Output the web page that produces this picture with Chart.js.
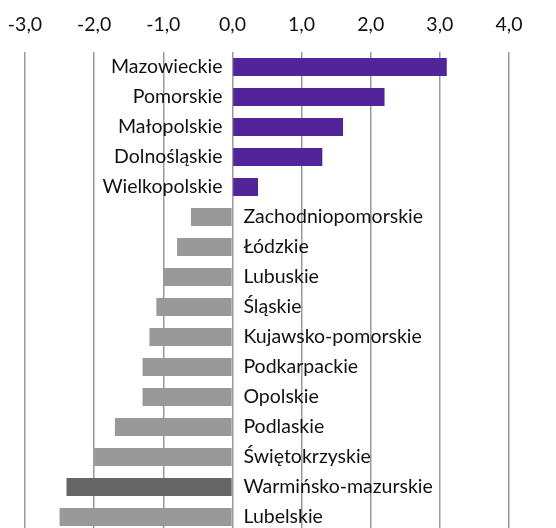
<!DOCTYPE html>
<html>
<head>
<meta charset="utf-8">
<script src="https://cdn.jsdelivr.net/npm/chart.js@4"></script>
<style>
    html, body { margin: 0; padding: 0; background: #fff; overflow: hidden; }
    #wrap { width: 556px; height: 532px; }
</style>
</head>
<body>
<div id="wrap"><canvas id="chart"></canvas></div>
<script>
// regiony i wartości
var regions = ['Mazowieckie', 'Pomorskie', 'Małopolskie', 'Dolnośląskie', 'Wielkopolskie',
    'Zachodniopomorskie', 'Łódzkie', 'Lubuskie', 'Śląskie', 'Kujawsko-pomorskie',
    'Podkarpackie', 'Opolskie', 'Podlaskie', 'Świętokrzyskie', 'Warmińsko-mazurskie', 'Lubelskie'];
var values = [3.1, 2.2, 1.6, 1.3, 0.37, -0.6, -0.8, -1.0, -1.1, -1.2, -1.3, -1.3, -1.7, -2.0, -2.4, -2.5];
var highlighted = ['Warmińsko-mazurskie'];
var xMin = -3, xMax = 4;

var fontFamily = 'Lato, "Noto Sans", sans-serif';

var barColors = values.map(function (v, i) {
    if (highlighted.indexOf(regions[i]) !== -1) return '#666666';
    return v >= 0 ? '#52249a' : '#999999';
});

// etykiety regionów przy osi zero
var regionLabels = {
    id: 'regionLabels',
    afterDatasetsDraw: function (chart) {
        var ctx = chart.ctx;
        var xs = chart.scales.x, ys = chart.scales.y;
        var x0 = xs.getPixelForValue(0);
        ctx.save();
        ctx.font = '19.5px ' + fontFamily;
        ctx.fillStyle = '#111';
        ctx.textBaseline = 'middle';
        regions.forEach(function (name, i) {
            var y = ys.getPixelForValue(i);
            if (values[i] >= 0) {
                ctx.textAlign = 'right';
                ctx.fillText(name, x0 - 10, y);
            } else {
                ctx.textAlign = 'left';
                ctx.fillText(name, x0 + 11, y);
            }
        });
        ctx.restore();
    }
};

new Chart(document.getElementById('chart'), {
    type: 'bar',
    data: {
        labels: regions,
        datasets: [{
            data: values,
            backgroundColor: barColors,
            categoryPercentage: 1,
            barPercentage: 0.6
        }]
    },
    options: {
        indexAxis: 'y',
        responsive: true,
        maintainAspectRatio: false,
        animation: false,
        layout: { padding: { left: 25, right: 47, top: 13.3, bottom: 0 } },
        plugins: { legend: { display: false }, tooltip: { enabled: false } },
        scales: {
            x: {
                position: 'top',
                min: xMin,
                max: xMax,
                border: { display: false },
                grid: { color: '#9a9a9a', lineWidth: 1.5, drawTicks: true, tickLength: 15.3, tickColor: 'rgba(0,0,0,0)' },
                ticks: {
                    stepSize: 1,
                    padding: 0,
                    color: '#111',
                    font: { family: fontFamily, size: 19.5 },
                    callback: function (v) { return v.toFixed(1).replace('.', ','); }
                }
            },
            y: { display: false }
        }
    },
    plugins: [regionLabels]
});
</script>
</body>
</html>
